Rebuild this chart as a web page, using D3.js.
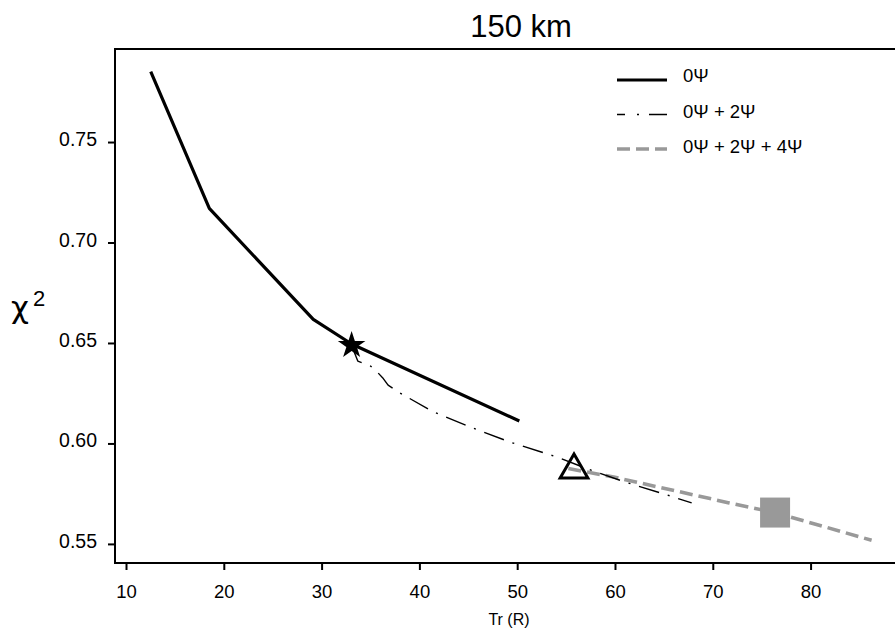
<!DOCTYPE html>
<html>
<head>
<meta charset="utf-8">
<script src="https://cdn.jsdelivr.net/npm/d3@7"></script>
<style>
  body { margin: 0; background: #fff; }
  svg { display: block; font-family: "Liberation Sans", Arial, sans-serif; }
</style>
</head>
<body>
<svg id="chart" width="895" height="629"></svg>
<script>
// --- data ---
const xTicks = [10, 20, 30, 40, 50, 60, 70, 80];
const yTicks = [0.55, 0.60, 0.65, 0.70, 0.75];

const psi0X = [12.53, 18.52, 29.15, 33.07, 50.22];
const psi0Y = [0.785, 0.717, 0.6617, 0.6495, 0.6112];

const psi02X = [33.07, 33.7, 35.0, 35.6, 36.31, 36.8, 37.84, 41.43, 45.35, 49.26, 54.04, 57.11, 61.02, 65.11, 67.84];
const psi02Y = [0.6488, 0.6410, 0.6385, 0.6360, 0.6323, 0.6290, 0.6256, 0.6157, 0.6079, 0.6007, 0.5933, 0.5875, 0.5808, 0.5747, 0.5704];

const psi024X = [55.23, 59.86, 71.68, 76.37, 86.24];
const psi024Y = [0.5875, 0.5833, 0.5704, 0.5656, 0.5518];

const starPt = [33.07, 0.6488];
const trianglePt = [55.81, 0.5868];
const squarePt = [76.37, 0.5656];

const legendLabels = ["0\u03A8", "0\u03A8 + 2\u03A8", "0\u03A8 + 2\u03A8 + 4\u03A8"];

// --- layout ---
const svg = d3.select("#chart");
const mLeft = 115, mTop = 49, mRight = 903, mBottom = 563;

const x = d3.scaleLinear().domain([8.875, 89.45]).range([mLeft, mRight]);
const y = d3.scaleLinear().domain([0.5405, 0.7963]).range([mBottom, mTop]);

const zip = (xs, ys) => xs.map((v, i) => [v, ys[i]]);
const line = d3.line().x(d => x(d[0])).y(d => y(d[1]));

const styles = [
    { stroke: "#000", width: 3.2, dash: null },
    { stroke: "#000", width: 1.4, dash: "21,9,2,9" },
    { stroke: "#999", width: 3.6, dash: "13,6" }
];

// frame
svg.append("rect")
    .attr("x", mLeft).attr("y", mTop)
    .attr("width", mRight - mLeft).attr("height", mBottom - mTop)
    .attr("fill", "none").attr("stroke", "#000").attr("stroke-width", 2);

// axes
const xAxis = svg.append("g")
    .attr("transform", `translate(0,${mBottom})`)
    .call(d3.axisBottom(x).tickValues(xTicks).tickSize(7).tickFormat(d3.format("d")));
xAxis.select(".domain").remove();
xAxis.selectAll("line").attr("stroke-width", 2);
xAxis.selectAll("text")
    .attr("y", 35).attr("dy", null)
    .attr("font-size", 18.5).attr("font-family", "Liberation Sans, Arial, sans-serif").attr("fill", "#000");

const yAxis = svg.append("g")
    .attr("transform", `translate(${mLeft},0)`)
    .call(d3.axisLeft(y).tickValues(yTicks).tickSize(7).tickFormat(d3.format(".2f")));
yAxis.select(".domain").remove();
yAxis.selectAll("line").attr("stroke-width", 2);
yAxis.selectAll("text")
    .attr("x", -18).attr("dy", 3.5)
    .attr("font-size", 19.5).attr("font-family", "Liberation Sans, Arial, sans-serif").attr("fill", "#000");

// titles
svg.append("text")
    .attr("x", 521).attr("y", 37)
    .attr("text-anchor", "middle").attr("font-size", 31)
    .text("150 km");

svg.append("text")
    .attr("x", 509).attr("y", 625)
    .attr("text-anchor", "middle").attr("font-size", 16)
    .text("Tr (R)");

svg.append("text")
    .attr("x", 11).attr("y", 318)
    .attr("font-family", "DejaVu Sans, sans-serif").attr("font-size", 31)
    .text("\u03C7");
svg.append("text")
    .attr("x", 33).attr("y", 306)
    .attr("font-size", 22)
    .text("2");

// series
const series = [zip(psi0X, psi0Y), zip(psi02X, psi02Y), zip(psi024X, psi024Y)];
[2, 1, 0].forEach(i => {
    svg.append("path")
        .attr("d", line(series[i]))
        .attr("fill", "none")
        .attr("stroke", styles[i].stroke)
        .attr("stroke-width", styles[i].width)
        .attr("stroke-dasharray", styles[i].dash)
        .attr("stroke-linejoin", "round");
});

// markers
svg.append("path")
    .attr("transform", `translate(${x(squarePt[0])},${y(squarePt[1])})`)
    .attr("d", d3.symbol(d3.symbolSquare, 900)())
    .attr("fill", "#999");

svg.append("path")
    .attr("transform", `translate(${x(trianglePt[0])},${y(trianglePt[1])})`)
    .attr("d", d3.symbol(d3.symbolTriangle, 333)())
    .attr("fill", "none").attr("stroke", "#000").attr("stroke-width", 3);

svg.append("path")
    .attr("transform", `translate(${x(starPt[0])},${y(starPt[1])})`)
    .attr("d", d3.symbol(d3.symbolStar, 236)())
    .attr("fill", "#000");

// legend
const lg = svg.append("g");
legendLabels.forEach((label, i) => {
    const ly = 80 + i * 34.5;
    lg.append("line")
        .attr("x1", 617).attr("x2", 667).attr("y1", ly).attr("y2", ly)
        .attr("stroke", styles[i].stroke)
        .attr("stroke-width", styles[i].width)
        .attr("stroke-dasharray", i === 1 ? "8,12,2,10,25" : styles[i].dash);
    lg.append("text")
        .attr("x", 683).attr("y", ly + 2 + i)
        .attr("font-size", 18.5)
        .text(label);
});
</script>
</body>
</html>
